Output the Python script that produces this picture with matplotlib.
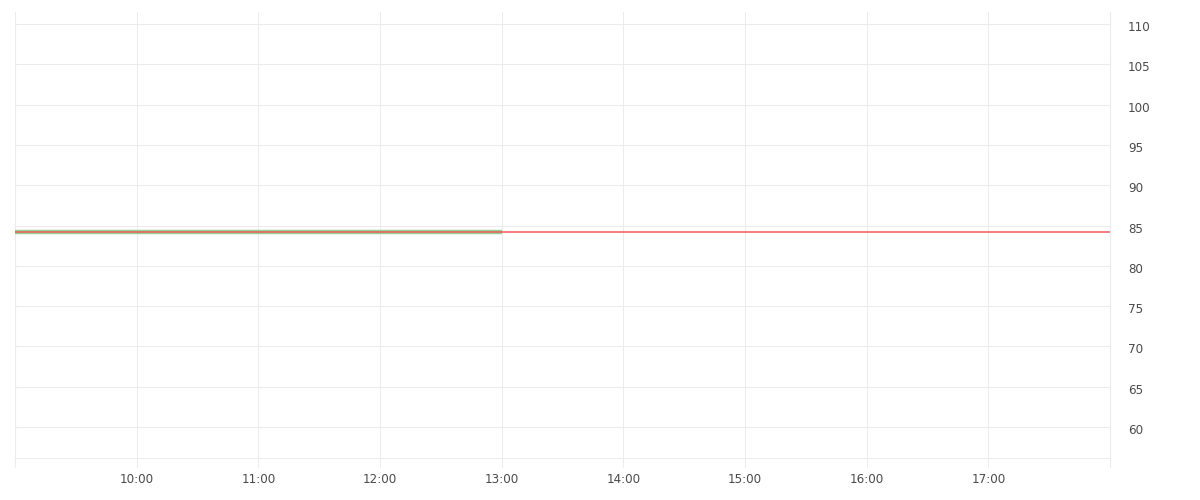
import matplotlib
matplotlib.use("Agg")
import matplotlib.pyplot as plt
import matplotlib.transforms as mtransforms

# Data
price_times = ["09:00", "13:00"]
price_values = [84.25, 84.25]
ref_level = 84.25
x_tick_labels = ["", "10:00", "11:00", "12:00", "13:00", "14:00", "15:00", "16:00", "17:00", ""]
y_ticks = [60, 65, 70, 75, 80, 85, 90, 95, 100, 105, 110]


def to_hours(t):
    h, m = t.split(":")
    return int(h) + int(m) / 60.0


grid_c = "#ebebeb"
text_c = "#4a4a4a"

fig = plt.figure(figsize=(12, 5), dpi=100)
ax = fig.add_axes([15 / 1200, 42 / 500, 1095 / 1200, 446 / 500])

x0, x1 = 9.0, 18.0
ax.set_xlim(x0, x1)
ax.set_ylim(56.15, 111.5)

xs = [to_hours(t) for t in price_times]
ax.plot(xs, price_values, color="#8fd398", lw=3.2, solid_capstyle="butt", zorder=3)
ax.axhline(ref_level, color="#f4585a", lw=1.1, zorder=4)

ax.set_xticks([9 + i for i in range(len(x_tick_labels))])
ax.set_xticklabels(x_tick_labels)
ax.set_yticks(y_ticks)
ax.set_yticklabels([str(v) for v in y_ticks])

ax.yaxis.tick_right()
ax.tick_params(axis="y", length=0, pad=13, labelsize=8.6, labelcolor=text_c)
ax.tick_params(axis="x", length=6.8, width=0.75, color=grid_c, pad=4,
               labelsize=8.6, labelcolor=text_c)

off = mtransforms.ScaledTranslation(0, -2 / 100, fig.dpi_scale_trans)
for lab in ax.get_yticklabels():
    lab.set_transform(lab.get_transform() + off)

ax.grid(True, color=grid_c, lw=0.75, zorder=0)
ax.set_axisbelow(True)

for side in ["left", "right", "bottom"]:
    ax.spines[side].set_color(grid_c)
    ax.spines[side].set_linewidth(0.75)
ax.spines["top"].set_visible(False)

fig.savefig("out.png", dpi=100, facecolor="white")
